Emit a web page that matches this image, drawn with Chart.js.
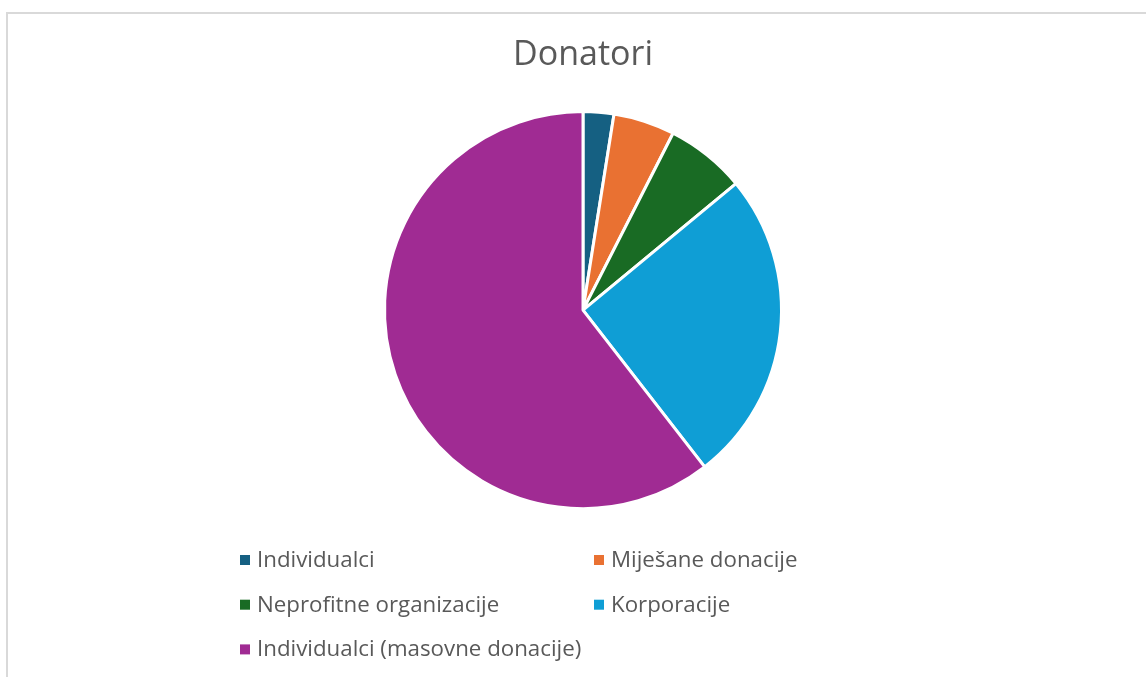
<!DOCTYPE html>
<html>
<head>
<meta charset="utf-8">
<script src="https://cdn.jsdelivr.net/npm/chart.js@4/dist/chart.umd.min.js"></script>
<style>
  html, body { margin: 0; padding: 0; background: #fff; overflow: hidden; }
  #frame {
    position: absolute; left: 6px; top: 12px; width: 1200px; height: 700px;
    border-left: 2px solid #d9d9d9; border-top: 2px solid #d9d9d9;
  }
  #wrap { position: absolute; left: 0; top: 0; width: 1146px; height: 677px; }
</style>
</head>
<body>
<div id="frame"></div>
<div id="wrap"><canvas id="DonatoriChart"></canvas></div>
<script>
const labels = [
  "Individualci",
  "Miješane donacije",
  "Neprofitne organizacije",
  "Korporacije",
  "Individualci (masovne donacije)",
];
const values = [2.5, 5, 6.5, 25.5, 60.5];
const colors = ["#156082", "#E97132", "#196B24", "#0F9ED5", "#A02B93"];

const fontFamily = "'Open Sans', 'Liberation Sans', sans-serif";

// two column legend like the office one, drawn under the pie
const gridLegend = {
  id: "gridLegend",
  afterDraw(chart, args, opts) {
    const ctx = chart.ctx;
    const cx = (chart.chartArea.left + chart.chartArea.right) / 2;
    const colX = [cx + opts.col1, cx + opts.col2];
    ctx.save();
    ctx.font = `${opts.size}px ${fontFamily}`;
    ctx.textBaseline = "alphabetic";
    ctx.textAlign = "left";
    chart.data.labels.forEach((label, i) => {
      const col = i % 2;
      const row = Math.floor(i / 2);
      const x = colX[col];
      const base = opts.top + row * opts.rowGap;
      ctx.fillStyle = chart.data.datasets[0].backgroundColor[i];
      ctx.fillRect(x, base - 12, 10, 10);
      ctx.fillStyle = "#595959";
      ctx.fillText(label, x + 17, base);
    });
    ctx.restore();
  },
};

new Chart(document.getElementById("DonatoriChart"), {
  type: "pie",
  data: {
    labels: labels,
    datasets: [
      {
        data: values,
        backgroundColor: colors,
        borderColor: "#ffffff",
        borderWidth: 3,
        hoverOffset: 0,
        radius: 198.5,
      },
    ],
  },
  options: {
    responsive: true,
    maintainAspectRatio: false,
    animation: false,
    layout: {
      padding: { left: 20, right: 0, top: 0, bottom: 151 },
    },
    plugins: {
      legend: { display: false },
      tooltip: { enabled: false },
      title: {
        display: true,
        text: "Donatori",
        color: "#595959",
        font: { family: fontFamily, size: 34, weight: "normal" },
        padding: { top: 35, bottom: 18.4 },
      },
      gridLegend: {
        col1: -343,
        col2: 11,
        top: 567,
        rowGap: 44.7,
        size: 22.3,
      },
    },
  },
  plugins: [gridLegend],
});
</script>
</body>
</html>
